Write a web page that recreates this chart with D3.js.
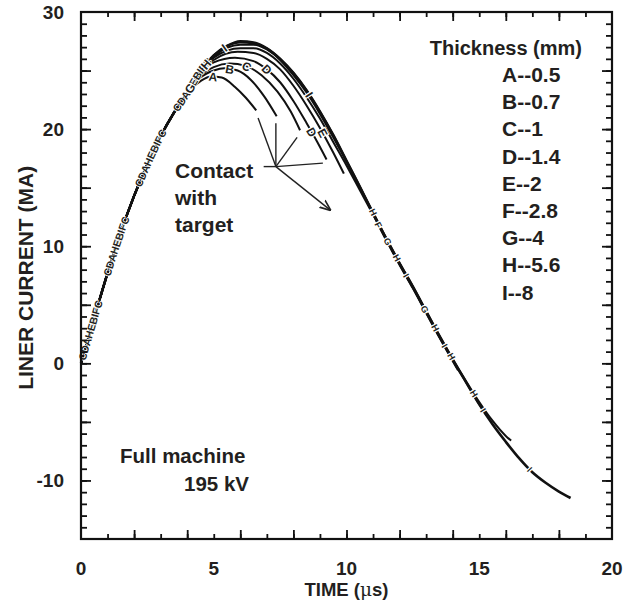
<!DOCTYPE html>
<html>
<head>
<meta charset="utf-8">
<script src="https://cdn.jsdelivr.net/npm/d3@7"></script>
<style>
body { margin: 0; background: #fff; }
text { font-family: "Liberation Sans", Arial, Helvetica, sans-serif; font-weight: bold; fill: #231f20; }
</style>
</head>
<body>
<svg id="chart" width="639" height="600"></svg>
<script>
// valori (tempo in us, corrente in MA)
var riseData = [[0,0],[0.5,3.9],[1,7.7],[1.5,11.2],[2,14.3],[2.5,17.0],[3,19.4],[3.5,21.4],[4,23.1]];

var tailA = [[4.5,24.1],[4.9,24.5],[5.3,24.4],[5.8,23.6],[6.2,22.7],[6.6,21.6]];
var tailB = [[4.5,24.4],[5,25.0],[5.4,25.2],[5.9,25.0],[6.4,24.2],[6.9,22.8],[7.37,21.1]];
var tailC = [[4.5,24.6],[5,25.3],[5.6,25.6],[6.2,25.4],[6.8,24.6],[7.4,23.2],[7.9,21.5],[8.25,19.9]];
var tailD = [[4.5,24.8],[5,25.7],[5.8,26.1],[6.5,25.8],[7,25.1],[7.5,24.0],[8,22.4],[8.5,20.5],[8.9,18.9],[9.25,17.4]];
var tailE = [[4.5,24.9],[5,25.9],[5.9,26.6],[6.5,26.5],[7,26.0],[7.5,25.1],[8,23.7],[8.5,22.0],[9,20.1],[9.5,18.0],[9.9,16.2]];
var tailF = [[4.5,24.9],[5,26.1],[6,26.9],[6.5,26.9],[7,26.5],[7.5,25.6],[8,24.3],[8.5,22.7],[9,20.9],[9.5,18.9],[10,16.9],[10.5,14.8],[11,12.7],[11.5,10.5],[12,8.4],[12.5,6.4],[13,4.3],[13.5,2.2],[14,0.2],[14.2,-0.6]];
var tailG = [[4.5,25.0],[5,26.2],[6,27.2],[6.5,27.2],[7,26.8],[7.5,25.9],[8,24.6],[8.5,23.1],[9,21.3],[9.5,19.3],[10,17.2],[10.5,15.0],[11,12.8],[11.5,10.6],[12,8.5],[12.5,6.5],[13,4.4],[13.5,2.3],[14,0.3],[14.5,-1.6],[15,-3.5],[15.3,-4.5]];
var tailH = [[4.5,25.0],[5,26.3],[6,27.4],[6.5,27.3],[7,26.9],[7.5,26.0],[8,24.8],[8.5,23.3],[9,21.5],[9.5,19.5],[10,17.3],[10.5,15.1],[11,12.9],[11.5,10.7],[12,8.6],[12.5,6.6],[13,4.5],[13.5,2.4],[14,0.4],[14.5,-1.5],[15,-3.3],[15.5,-4.9],[16,-6.2],[16.2,-6.6]];
var tailI = [[4.5,25.0],[5,26.3],[5.5,27.1],[6,27.5],[6.5,27.4],[7,26.9],[7.5,26.0],[8,24.8],[8.5,23.3],[9,21.5],[9.5,19.5],[10,17.3],[10.5,15.1],[11,12.8],[11.5,10.6],[12,8.5],[12.5,6.5],[13,4.4],[13.5,2.3],[14,0.3],[14.5,-1.6],[15,-3.5],[15.5,-5.2],[16,-6.7],[16.5,-8.1],[17,-9.3],[17.5,-10.2],[18,-10.95],[18.44,-11.5]];

var letters = ["A","B","C","D","E","F","G","H","I"];
var thickness = ["0.5","0.7","1","1.4","2","2.8","4","5.6","8"];
var tails = [tailA, tailB, tailC, tailD, tailE, tailF, tailG, tailH, tailI];

// lettere sulle curve vicino al picco [lettera, tempo]
var peakLabels = [["A",4.97],["B",5.6],["C",6.24],["D",7.0],["D",8.69],["G",4.1],["H",4.7],["I",5.4],["E",9.1],["I",8.6]];
// marcatori sulla parte discendente [lettera, tempo]
var fallLabels = [["H",11.0],["F",11.2],["G",11.55],["H",11.9],["I",12.25],["G",12.95],["H",13.35],["I",13.7],["H",13.95],["H",14.8],["I",15.15],["I",16.9]];

var xTicksLab = [0,5,10,15,20];
var yTicksLab = [-10,0,10,20,30];

var svg = d3.select("#chart");

var x = d3.scaleLinear().domain([0,20]).range([81,612]);
var y = d3.scaleLinear().domain([-15,30]).range([539,12]);

// curve
var line = d3.line()
    .x(function(d){ return x(d[0]); })
    .y(function(d){ return y(d[1]); })
    .curve(d3.curveMonotoneX);

var curves = svg.append("g");
tails.forEach(function(t, i){
    curves.append("path")
        .attr("d", line(riseData.concat(t)))
        .attr("fill", "none")
        .attr("stroke", "#111")
        .attr("stroke-width", i == 8 ? 2.6 : 2);
});

// percorso per le lettere lungo la salita
var risePath = svg.append("path")
    .attr("id", "risePath")
    .attr("d", line(riseData.concat(tailI.slice(0,2))))
    .attr("fill", "none")
    .attr("stroke", "none");

var offsets = ["1%","27%","55%","80%"];
offsets.forEach(function(o){
    svg.append("text")
        .attr("font-size", 10.5)
        .attr("dy", 3.7)
        .attr("stroke", "#fff")
        .attr("stroke-width", 1.5)
        .attr("paint-order", "stroke")
        .append("textPath")
        .attr("href", "#risePath")
        .attr("startOffset", o)
        .text("CDAHEBIFC");
});

function valueAt(data, t){
    for (var k = 1; k < data.length; k++) {
        if (data[k][0] >= t) {
            var a = data[k-1], b = data[k];
            return a[1] + (b[1]-a[1]) * (t-a[0]) / (b[0]-a[0]);
        }
    }
    return data[data.length-1][1];
}

function placeLetter(l, t, size, rotate){
    var data = riseData.concat(tails[letters.indexOf(l)]);
    var v = valueAt(data, t);
    var v2 = valueAt(data, t+0.1);
    var ang = Math.atan2(y(v2)-y(v), x(t+0.1)-x(t)) * 180 / Math.PI;
    svg.append("text")
        .attr("transform", "translate(" + x(t) + "," + y(v) + ") rotate(" + (rotate ? ang : 0) + ")")
        .attr("text-anchor", "middle")
        .attr("dy", size*0.36)
        .attr("font-size", size)
        .attr("stroke", "#fff")
        .attr("stroke-width", 2.5)
        .attr("paint-order", "stroke")
        .text(l);
}
peakLabels.forEach(function(p){ placeLetter(p[0], p[1], 12, true); });
fallLabels.forEach(function(p){ placeLetter(p[0], p[1], 9, true); });

// assi con tacche interne
function ticks(g, axis){ g.call(axis); g.select(".domain").remove(); g.selectAll(".tick line").attr("stroke","#111").attr("stroke-width",1.8); g.selectAll(".tick text").remove(); }

var xMinor = d3.range(1,20,1), xMajor = d3.range(2,20,2);
var yMinor = d3.range(-14,30,1), yMajor = d3.range(-10,30,5);

svg.append("g").attr("transform","translate(0,539)").call(ticks, d3.axisBottom(x).tickValues(xMinor).tickSize(-5));
svg.append("g").attr("transform","translate(0,539)").call(ticks, d3.axisBottom(x).tickValues(xMajor).tickSize(-9));
svg.append("g").attr("transform","translate(0,12)").call(ticks, d3.axisTop(x).tickValues(xMinor).tickSize(-5));
svg.append("g").attr("transform","translate(0,12)").call(ticks, d3.axisTop(x).tickValues(xMajor).tickSize(-9));
svg.append("g").attr("transform","translate(81,0)").call(ticks, d3.axisLeft(y).tickValues(yMinor).tickSize(-6));
svg.append("g").attr("transform","translate(81,0)").call(ticks, d3.axisLeft(y).tickValues(yMajor).tickSize(-10));
svg.append("g").attr("transform","translate(612,0)").call(ticks, d3.axisRight(y).tickValues(yMinor).tickSize(-6));
svg.append("g").attr("transform","translate(612,0)").call(ticks, d3.axisRight(y).tickValues(yMajor).tickSize(-10));

svg.append("rect")
    .attr("x", 81).attr("y", 12)
    .attr("width", 612-81).attr("height", 539-12)
    .attr("fill", "none").attr("stroke", "#111").attr("stroke-width", 2.2);

// etichette dei valori
svg.selectAll("text.xl").data(xTicksLab).enter().append("text")
    .attr("class","xl")
    .attr("x", function(d){ return x(d); })
    .attr("y", 575)
    .attr("text-anchor","middle")
    .attr("font-size", 19)
    .text(function(d){ return d; });

svg.selectAll("text.yl").data(yTicksLab).enter().append("text")
    .attr("class","yl")
    .attr("x", 64)
    .attr("y", function(d){ return y(d) + 7; })
    .attr("text-anchor","end")
    .attr("font-size", 19)
    .text(function(d){ return d; });

var xt = svg.append("text")
    .attr("x", x(10)).attr("y", 596)
    .attr("text-anchor","middle")
    .attr("font-size", 18.5);
xt.append("tspan").text("TIME (");
xt.append("tspan").attr("font-weight","normal").attr("font-family","DejaVu Serif, serif").text("\u03bc");
xt.append("tspan").text("s)");

svg.append("text")
    .attr("transform","translate(33," + y(7.3) + ") rotate(-90)")
    .attr("text-anchor","middle")
    .attr("font-size", 21)
    .text("LINER CURRENT (MA)");

// legenda
svg.append("text")
    .attr("x", 582).attr("y", 55)
    .attr("text-anchor","end")
    .attr("font-size", 20)
    .text("Thickness (mm)");

svg.selectAll("text.leg").data(letters).enter().append("text")
    .attr("class","leg")
    .attr("x", 502)
    .attr("y", function(d,i){ return 82 + i*27.2; })
    .attr("font-size", 21)
    .text(function(d,i){ return d + "--" + thickness[i]; });

// annotazioni
["Contact","with","target"].forEach(function(s,i){
    svg.append("text").attr("x",175).attr("y",178 + i*27).attr("font-size",21).text(s);
});
svg.append("text").attr("x",120).attr("y",463).attr("font-size",20.5).text("Full machine");
svg.append("text").attr("x",249).attr("y",491).attr("text-anchor","end").attr("font-size",20.5).text("195 kV");

// frecce del contatto
var hub = [7.34, 16.8];
var targets = [[6.67,20.95],[7.34,20.5],[8.14,19.3],[9.11,17.1]];
var arrows = svg.append("g").attr("stroke","#222").attr("stroke-width",1.4);
arrows.append("line")
    .attr("x1", x(6.88)).attr("y1", y(16.8))
    .attr("x2", x(hub[0])).attr("y2", y(hub[1]));
targets.forEach(function(t){
    arrows.append("line")
        .attr("x1", x(hub[0])).attr("y1", y(hub[1]))
        .attr("x2", x(t[0])).attr("y2", y(t[1]));
});
svg.append("defs").append("marker")
    .attr("id","head").attr("viewBox","0 0 10 10")
    .attr("refX",9).attr("refY",5)
    .attr("markerWidth",8).attr("markerHeight",8)
    .attr("orient","auto")
    .append("path").attr("d","M0,1 L10,5 L0,9").attr("fill","none").attr("stroke","#222").attr("stroke-width",1.5);
arrows.append("line")
    .attr("x1", x(hub[0])).attr("y1", y(hub[1]))
    .attr("x2", x(9.38)).attr("y2", y(13.1))
    .attr("marker-end","url(#head)");
</script>
</body>
</html>
